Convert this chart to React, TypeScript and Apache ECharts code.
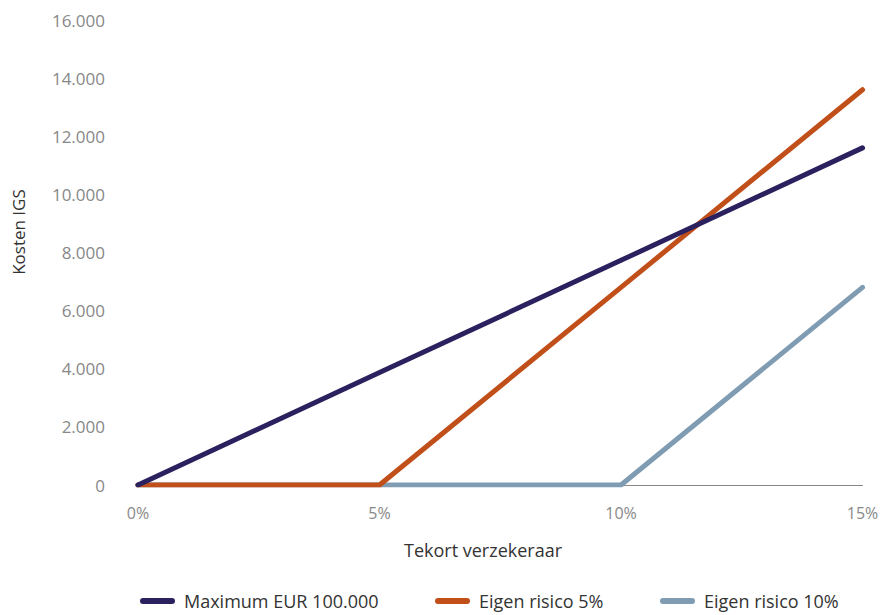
import React, { useEffect, useRef } from "react";
import * as echarts from "echarts";

const xValues = [0, 5, 10, 15];
const maximumEur = [0, 3870, 7730, 11600];
const eigenRisico5 = [0, 0, 6800, 13600];
const eigenRisico10 = [0, 0, 0, 6800];
const seriesNames = ["Maximum EUR 100.000", "Eigen risico 5%", "Eigen risico 10%"];
const colors = ["#2c215f", "#c14f1a", "#809cb3"];

const FONT = "'Open Sans', 'Noto Sans', sans-serif";
const legendIcon = "path://M3,0 L32,0 A3,3 0 0 1 32,6 L3,6 A3,3 0 0 1 3,0 Z";
const legendLefts = [140, 435, 660];

export default function App() {
  const ref = useRef<HTMLDivElement>(null);
  useEffect(() => {
    if (!ref.current) return;
    const chart = echarts.init(ref.current, undefined, { renderer: "svg" });
    const pair = (vals: number[]) => xValues.map((x, i) => [x, vals[i]]);
    const mk = (name: string, vals: number[], color: string, z: number) => ({
      name,
      type: "line",
      data: pair(vals),
      showSymbol: false,
      symbol: "none",
      z,
      lineStyle: { color, width: 5, cap: "round", join: "round" },
      itemStyle: { color },
    });
    chart.setOption({
      animation: false,
      textStyle: { fontFamily: FONT },
      grid: { left: 138, right: 19.5, top: 20, bottom: 130, containLabel: false },
      graphic: [
        {
          type: "text",
          x: 18,
          y: 232,
          rotation: Math.PI / 2,
          style: {
            text: "Kosten IGS",
            fill: "#333",
            fontSize: 17,
            fontFamily: FONT,
            align: "center",
            verticalAlign: "middle",
          },
        },
        {
          type: "text",
          x: 483,
          y: 550,
          style: {
            text: "Tekort verzekeraar",
            fill: "#333",
            fontSize: 18,
            fontFamily: FONT,
            align: "center",
            verticalAlign: "middle",
          },
        },
      ],
      xAxis: {
        type: "value",
        min: 0,
        max: 15,
        interval: 5,
        axisLine: { show: true, lineStyle: { color: "#888", width: 1 } },
        axisTick: { show: false },
        splitLine: { show: false },
        axisLabel: { formatter: "{value}%", color: "#888", fontSize: 16, margin: 20, fontFamily: FONT },
      },
      yAxis: {
        type: "value",
        min: 0,
        max: 16000,
        interval: 2000,
        axisLine: { show: false },
        axisTick: { show: false },
        splitLine: { show: false },
        axisLabel: {
          color: "#888",
          fontSize: 17,
          margin: 33,
          fontFamily: FONT,
          formatter: (v: number) => (v === 0 ? "0" : (v / 1000).toFixed(3)),
        },
      },
      legend: seriesNames.map((n, i) => ({
        data: [n],
        top: 592,
        left: legendLefts[i],
        padding: 0,
        icon: legendIcon,
        itemWidth: 35,
        itemHeight: 6,
        textStyle: { color: "#333", fontSize: 18, fontFamily: FONT, padding: [0, 0, 0, 4] },
      })),
      series: [
        mk(seriesNames[2], eigenRisico10, colors[2], 1),
        mk(seriesNames[1], eigenRisico5, colors[1], 2),
        mk(seriesNames[0], maximumEur, colors[0], 3),
      ],
    });
    return () => chart.dispose();
  }, []);
  return <div ref={ref} style={{ width: 882, height: 615, position: "absolute", left: 0, top: 0 }} />;
}
